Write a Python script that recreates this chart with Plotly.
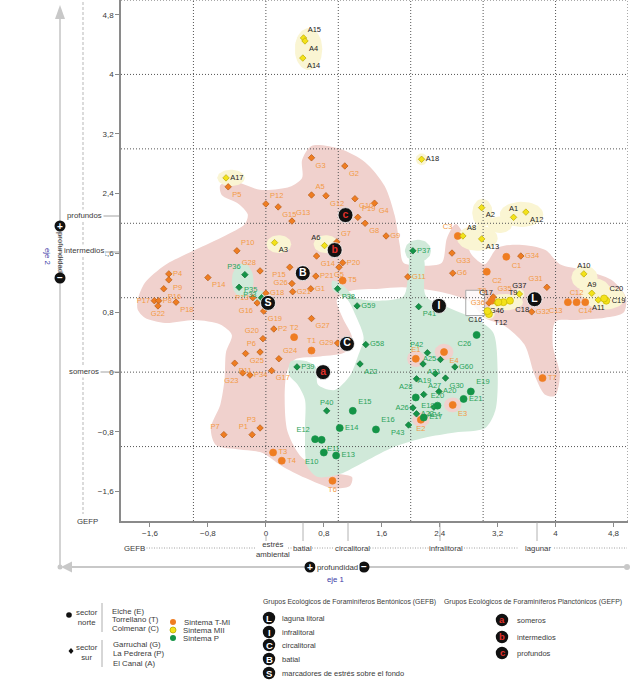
import numpy as np
import plotly.graph_objects as go

FONT = "Liberation Sans, Arial, Helvetica, sans-serif"

# ---------------- data ----------------
tick_vals = [-1.6, -0.8, 0, 0.8, 1.6, 2.4, 3.2, 4, 4.8]
tick_text = ["\u22121,6", "\u22120,8", "0", "0,8", "1,6", "2,4", "3,2", "4", "4,8"]
grid_vals = [-1, 0, 1, 2, 3, 4, 5]

# Sintema T-MI, sector sur (G, P, A)
tmi_sur_names = ["G3", "G2", "A5", "G12", "G10", "G4", "P19", "G8", "G9", "G7",
                 "P5", "P12", "G15", "G13", "P10", "G14", "P20", "G5", "G28", "P4",
                 "P9", "P14", "P15", "P21", "G26", "G21", "G1", "P16", "P17", "P8",
                 "G22", "P18", "G18", "P13", "G16", "G19", "G27", "P2", "G20", "G29",
                 "P6", "G25", "G24", "P11", "G23", "P34", "G17", "P7", "P1", "P3",
                 "G11", "G33", "G6", "G34", "G31", "G35", "G36", "G32"]
tmi_sur_x = [0.63, 1.09, 0.63, 0.83, 1.23, 1.50, 1.27, 1.37, 1.66, 0.98,
             -0.52, 0.00, 0.17, 0.36, -0.40, 0.70, 1.06, 1.01, -0.08, -1.34,
             -1.34, -0.80, 0.33, 0.69, 0.36, 0.37, 0.62, -1.41, -1.54, -1.48,
             -1.49, -1.24, 0.00, -0.18, -0.12, -0.03, 0.63, 0.11, -0.04, 0.99,
             -0.08, -0.28, 0.18, -0.43, -0.32, -0.22, 0.08, -0.58, -0.19, -0.08,
             1.96, 2.57, 2.58, 3.52, 3.88, 3.14, 3.08, 3.67]
tmi_sur_y = [2.88, 2.77, 2.38, 2.37, 2.33, 2.27, 2.08, 2.00, 1.83, 1.75,
             2.49, 2.26, 2.22, 2.03, 1.63, 1.56, 1.47, 1.41, 1.36, 1.32,
             1.24, 1.27, 1.41, 1.29, 1.19, 1.08, 1.12, 1.12, 0.96, 0.96,
             0.89, 0.94, 1.06, 1.00, 0.93, 0.82, 0.72, 0.58, 0.45, 0.39,
             0.27, 0.25, 0.18, 0.12, -0.01, -0.04, 0.02, -0.84, -0.84, -0.75,
             1.28, 1.60, 1.33, 1.56, 1.14, 1.01, 0.93, 0.81]

# Sintema T-MI, sector norte (E, T, C)
tmi_norte_names = ["C3", "C1", "C2", "T5", "T2", "T1", "T3", "T4", "T6", "T7",
                   "C12", "C13", "C14", "T8", "E1", "E4", "E3", "E2"]
tmi_norte_x = [2.65, 3.32, 3.05, 1.06, 0.39, 0.63, 0.10, 0.22, 0.92, 3.82,
               4.29, 4.17, 4.41, 3.12, 2.07, 2.46, 2.58, 2.14]
tmi_norte_y = [1.83, 1.55, 1.35, 1.23, 0.47, 0.29, -1.08, -1.19, -1.46, -0.08,
               0.94, 0.94, 0.94, 0.96, 0.18, 0.27, -0.44, -0.64]

# Sintema MII
mii_sur_names = ["A15", "A4", "A14", "A17", "A3", "A6", "A18", "A2", "A1", "A12",
                 "A8", "A13", "A10", "A9", "A11", "G37", "G46"]
mii_sur_x = [0.52, 0.54, 0.51, -0.55, 0.12, 0.81, 2.15, 2.98, 3.42, 3.59,
             2.72, 2.98, 4.39, 4.50, 4.59, 3.50, 3.19]
mii_sur_y = [4.49, 4.45, 4.22, 2.61, 1.74, 1.70, 2.86, 2.21, 2.08, 2.15,
             1.83, 1.79, 1.32, 1.06, 0.97, 1.05, 0.93]
mii_norte_names = ["C19", "C20", "T9", "C18", "C17", "T12", "C16"]
mii_norte_x = [4.70, 4.67, 3.28, 3.37, 3.21, 3.08, 3.06]
mii_norte_y = [0.96, 0.99, 0.94, 0.96, 0.94, 0.78, 0.82]

# Sintema P
p_sur_names = ["P37", "P36", "P33", "P35", "P38", "G59", "P41", "G58", "A22", "P42",
               "A25", "A21", "G60", "A19", "G30", "A28", "A27", "A20", "A24", "A26",
               "A23", "P40", "P43", "P39"]
p_sur_x = [2.03, -0.29, -0.37, -0.06, 0.99, 1.26, 2.11, 1.38, 1.30, 2.23,
           2.41, 2.17, 2.61, 2.34, 2.48, 2.08, 2.18, 2.39, 2.32, 2.03,
           2.08, 0.84, 1.97, 0.43]
p_sur_y = [1.63, 1.31, 1.14, 1.00, 1.12, 0.89, 0.88, 0.37, 0.11, 0.26,
           0.17, 0.11, 0.07, -0.02, -0.08, -0.09, -0.30, -0.26, -0.47, -0.48,
           -0.56, -0.52, -0.71, 0.07]
p_norte_names = ["C26", "E19", "E18", "E20", "E21", "E17", "E15", "E14", "E16",
                 "E12", "E11", "E10", "E13"]
p_norte_x = [2.91, 2.83, 2.07, 2.37, 2.73, 2.18, 1.20, 1.02, 1.52, 0.68, 0.77, 0.80, 0.97]
p_norte_y = [0.50, -0.26, -0.34, -0.45, -0.36, -0.61, -0.52, -0.75, -0.77, -0.90, -0.91, -1.08, -1.12]

# Group centroids
gefb_letters = ["L", "I", "C", "B", "S"]
gefb_x = [3.71, 2.39, 1.12, 0.51, 0.03]
gefb_y = [0.98, 0.89, 0.38, 1.33, 0.93]
gefp_letters = ["a", "b", "c"]
gefp_x = [0.79, 0.95, 1.10]
gefp_y = [0.00, 1.64, 2.11]

# Region outlines (data units)
pink_x = [-1.77, -1.67, -1.39, -0.98, -0.57, -0.29, -0.25, -0.39, -0.61, -0.63, -0.47, -0.08, 0.33, 0.50, 0.50,
          0.63, 1.02, 1.37, 1.64, 1.78, 1.85, 1.90, 2.19, 2.43, 2.50, 2.62, 2.73, 2.84, 3.02, 3.20, 3.50,
          3.86, 4.06, 4.40, 4.77, 4.97, 4.94, 4.68, 4.30, 4.00, 3.96, 4.06, 3.99, 3.85, 3.71, 3.57, 3.30,
          3.02, 2.81, 2.40, 1.89, 1.57, 1.16, 0.98, 1.06, 1.19, 1.10, 0.75, 0.40, 0.29, 0.26, 0.30, 0.50,
          0.88, 1.19, 1.16, 0.92, 0.54, 0.22, -0.06, -0.36, -0.69, -0.76, -0.63, -0.57, -0.55, -0.47,
          -0.63, -0.98, -1.39, -1.67, -1.77]
pink_y = [0.97, 1.20, 1.44, 1.64, 1.83, 1.99, 2.12, 2.27, 2.38, 2.51, 2.57, 2.45, 2.49, 2.61, 2.85,
          3.04, 3.00, 2.82, 2.50, 2.10, 1.70, 1.47, 1.43, 1.47, 1.80, 1.99, 1.86, 1.58, 1.45, 1.67, 1.71,
          1.64, 1.45, 1.37, 1.24, 1.01, 0.80, 0.73, 0.70, 0.68, 0.37, -0.04, -0.32, -0.30, -0.04, 0.37, 0.62,
          0.73, 0.95, 1.08, 1.14, 1.12, 1.09, 0.97, 0.73, 0.46, 0.27, 0.21, 0.17, 0.00, -0.37, -0.80, -1.15,
          -1.34, -1.41, -1.53, -1.56, -1.42, -1.26, -1.08, -1.04, -0.98, -0.75, -0.44, -0.10, 0.27, 0.50,
          0.64, 0.70, 0.66, 0.73, 0.84]
green_x = [0.92, 1.06, 1.24, 1.57, 1.90, 1.97, 2.00, 2.11, 2.19, 2.21, 2.54, 2.92, 3.14, 3.20, 3.17,
           3.03, 2.61, 2.19, 1.78, 1.37, 1.02, 0.72, 0.57, 0.54, 0.54, 0.44, 0.32, 0.34, 0.55, 0.69,
           0.72, 0.95, 1.16, 1.27, 1.35, 1.24, 1.13, 0.92]
green_y = [1.23, 1.17, 1.00, 0.96, 1.02, 1.37, 1.70, 1.75, 1.48, 1.02, 0.86, 0.70, 0.53, 0.03, -0.51,
           -0.75, -0.81, -0.88, -1.00, -1.20, -1.37, -1.41, -1.26, -0.78, -0.37, -0.17, -0.04, 0.14, 0.15, 0.07,
           -0.17, -0.24, -0.05, 0.21, 0.46, 0.76, 0.97, 1.11]

# small blobs: (cx, cy, rx, ry)
green_blobs = [(-0.32, 1.23, 0.15, 0.23), (-0.10, 1.02, 0.10, 0.08), (2.10, 1.63, 0.18, 0.15)]
yellow_blobs = [(0.59, 4.34, 0.19, 0.28), (-0.48, 2.61, 0.19, 0.11), (0.18, 1.72, 0.17, 0.12),
                (0.83, 1.72, 0.17, 0.12), (2.15, 2.86, 0.08, 0.08), (2.99, 2.14, 0.14, 0.19),
                (3.53, 2.12, 0.30, 0.17), (2.92, 1.80, 0.28, 0.17), (3.23, 1.98, 0.17, 0.11),
                (4.40, 1.27, 0.18, 0.16), (4.54, 1.10, 0.21, 0.16), (4.68, 1.00, 0.28, 0.16),
                (3.30, 0.94, 0.25, 0.11), (3.08, 0.79, 0.08, 0.08), (3.50, 1.05, 0.07, 0.07)]
pink_blobs = [(2.07, 0.18, 0.12, 0.11), (2.46, 0.27, 0.13, 0.11), (2.58, -0.44, 0.12, 0.10), (2.14, -0.64, 0.12, 0.10)]
label_box = (2.76, 3.02, 0.76, 1.10)

LABEL_POS = {
    "G3": "bottom right", "G2": "bottom right", "A5": "top right", "G12": "bottom right", "G10": "bottom right",
    "G4": "bottom right", "P19": "top right", "G8": "bottom right", "G9": "middle right", "G7": "top right",
    "P5": "bottom right", "P12": "top right", "G15": "bottom right", "G13": "top right", "P10": "top right",
    "G14": "bottom right", "P20": "middle right", "G5": "bottom center", "G28": "top left", "P4": "middle right",
    "P9": "bottom right", "P14": "bottom right", "P15": "bottom left", "P21": "middle right", "G26": "middle left",
    "G21": "middle right", "G1": "middle right", "P16": "bottom right", "P17": "middle left", "P8": "middle right",
    "G22": "bottom center", "P18": "bottom right", "G18": "middle right", "P13": "middle left", "G16": "bottom left",
    "G19": "bottom right", "G27": "bottom right", "P2": "middle right", "G20": "top left", "G29": "middle left",
    "P6": "top left", "G25": "bottom right", "G24": "top right", "P11": "bottom right", "G23": "bottom left",
    "P34": "middle right", "G17": "bottom right", "P7": "top left", "P1": "top left", "P3": "top left",
    "G11": "middle right", "G33": "bottom right", "G6": "middle right", "G34": "middle right", "G31": "top left",
    "G35": "top right", "G36": "middle left", "G32": "middle right",
    "C3": "top left", "C1": "bottom right", "C2": "bottom right", "T5": "middle right", "T2": "top center",
    "T1": "top center", "T3": "middle right", "T4": "middle right", "T6": "bottom center", "T7": "middle right",
    "C12": "top center", "C13": "bottom left", "C14": "bottom center", "T8": "top left", "E1": "top center",
    "E4": "bottom right", "E3": "bottom right", "E2": "bottom center",
    "A15": "top right", "A4": "bottom right", "A14": "bottom right", "A17": "middle right", "A3": "bottom right",
    "A6": "top left", "A18": "middle right", "A2": "bottom right", "A1": "top center", "A12": "bottom right",
    "A8": "top right", "A13": "bottom right", "A10": "top center", "A9": "top center", "A11": "bottom center",
    "G37": "top center", "G46": "bottom center",
    "C19": "middle right", "C20": "top right", "T9": "top right", "C18": "bottom right", "C17": "top left",
    "T12": "bottom right", "C16": "bottom left",
    "P37": "middle right", "P36": "top left", "P33": "bottom right", "P35": "top left", "P38": "bottom right",
    "G59": "middle right", "P41": "bottom right", "G58": "middle right", "A22": "bottom right", "P42": "top left",
    "A25": "middle left", "A21": "bottom right", "G60": "middle right", "A19": "bottom left", "G30": "bottom right",
    "A28": "bottom left", "A27": "top right", "A20": "middle right", "A24": "bottom center", "A26": "middle left",
    "A23": "middle right", "P40": "top center", "P43": "bottom left", "P39": "middle right",
    "C26": "bottom left", "E19": "top right", "E18": "bottom right", "E20": "top center", "E21": "middle right",
    "E17": "middle right", "E15": "top right", "E14": "middle right", "E16": "top right", "E12": "top left",
    "E11": "bottom right", "E10": "bottom left", "E13": "middle right",
}

# ---------------- styles ----------------
PINK = "#f0d1cd"
GREEN = "#d0e9d9"
YELLOW = "#faf5d3"
ORANGE = "#ef7d22"
ORANGE_T = "#f39a45"
YEL = "#f3e21a"
GRN = "#149447"
GRN_T = "#2aa35a"
GRID = "#555555"
AX = "#8a8a8a"
TXT = "#3a3a3a"

fig = go.Figure()


def ellipse(cx, cy, rx, ry, n=48):
    t = np.linspace(0, 2 * np.pi, n)
    return list(cx + rx * np.cos(t)), list(cy + ry * np.sin(t))


def add_region(xs, ys, color, spline=True):
    fig.add_trace(go.Scatter(
        x=list(xs) + [xs[0]], y=list(ys) + [ys[0]], mode="lines", fill="toself", fillcolor=color,
        line=dict(width=0, color=color, shape="spline" if spline else "linear", smoothing=0.8),
        hoverinfo="skip", showlegend=False))


add_region(pink_x, pink_y, PINK)
add_region(green_x, green_y, GREEN)
for b in green_blobs:
    ex, ey = ellipse(*b)
    add_region(ex, ey, GREEN, spline=False)
for b in yellow_blobs:
    ex, ey = ellipse(*b)
    add_region(ex, ey, YELLOW, spline=False)
for b in pink_blobs:
    ex, ey = ellipse(*b)
    add_region(ex, ey, PINK, spline=False)

bx0, bx1, by0, by1 = label_box
fig.add_trace(go.Scatter(x=[bx0, bx1, bx1, bx0, bx0], y=[by0, by0, by1, by1, by0], mode="lines",
                         fill="toself", fillcolor="rgba(255,255,255,0.85)",
                         line=dict(color="#a8a8a8", width=1), hoverinfo="skip", showlegend=False))

# dotted grid at integer values
gx, gy = [], []
for v in grid_vals:
    gx += [v, v, None]
    gy += [-2, 5, None]
    gx += [-2, 5, None]
    gy += [v, v, None]
fig.add_trace(go.Scatter(x=gx, y=gy, mode="lines", line=dict(color=GRID, width=1, dash="1px,2px"),
                         hoverinfo="skip", showlegend=False, cliponaxis=False))


def add_points(names, xs, ys, symbol, mcolor, mline, tcolor, size):
    fig.add_trace(go.Scatter(
        x=xs, y=ys, mode="markers+text", text=names,
        textposition=[LABEL_POS.get(n, "bottom right") for n in names],
        textfont=dict(family=FONT, size=7.5, color=tcolor),
        marker=dict(symbol=symbol, size=size, color=mcolor, line=dict(color=mline, width=0.7)),
        cliponaxis=False, hoverinfo="skip", showlegend=False))


add_points(tmi_sur_names, tmi_sur_x, tmi_sur_y, "diamond", ORANGE, "#b45a16", ORANGE_T, 5)
add_points(tmi_norte_names, tmi_norte_x, tmi_norte_y, "circle", ORANGE, ORANGE, ORANGE_T, 7)
add_points(p_sur_names, p_sur_x, p_sur_y, "diamond", GRN, "#0d6e34", GRN_T, 5)
add_points(p_norte_names, p_norte_x, p_norte_y, "circle", GRN, GRN, GRN_T, 7)
add_points(mii_sur_names, mii_sur_x, mii_sur_y, "diamond", YEL, "#b9a800", "#222222", 5)
add_points(mii_norte_names, mii_norte_x, mii_norte_y, "circle", YEL, "#c9b800", "#222222", 7)

fig.add_trace(go.Scatter(x=gefb_x, y=gefb_y, mode="markers+text", text=["<b>%s</b>" % s for s in gefb_letters],
                         textposition="middle center", textfont=dict(family=FONT, size=10.5, color="white"),
                         marker=dict(size=15, color="#111111", line=dict(color="white", width=0.8)),
                         hoverinfo="skip", showlegend=False))
fig.add_trace(go.Scatter(x=gefp_x, y=gefp_y, mode="markers+text", text=["<b>%s</b>" % s for s in gefp_letters],
                         textposition="middle center", textfont=dict(family=FONT, size=10.5, color="#e0302a"),
                         marker=dict(size=15, color="#111111", line=dict(color="white", width=0.8)),
                         hoverinfo="skip", showlegend=False))

# ---------------- outside decorations (pixel -> paper helpers) ----------------
W, H = 630, 681
ML, MR, MT, MB = 121, 2, 0, 160
PW, PH = W - ML - MR, H - MT - MB


def X(px):
    return (px - ML) / PW


def Y(py):
    return (MT + PH - py) / PH


shapes = []
ann = []


def line(x0, y0, x1, y1, color="#999", width=1, dash=None):
    d = dict(type="line", xref="paper", yref="paper", x0=X(x0), y0=Y(y0), x1=X(x1), y1=Y(y1),
             line=dict(color=color, width=width))
    if dash:
        d["line"]["dash"] = dash
    shapes.append(d)


def circ(px, py, r, color, lc=None):
    shapes.append(dict(type="circle", xref="paper", yref="paper", x0=X(px - r), x1=X(px + r),
                       y0=Y(py + r), y1=Y(py - r), fillcolor=color,
                       line=dict(width=0.8 if lc else 0, color=lc or color)))


def path(pts, color):
    s = "M " + " L ".join("%f,%f" % (X(a), Y(b)) for a, b in pts) + " Z"
    shapes.append(dict(type="path", xref="paper", yref="paper", path=s, fillcolor=color,
                       line=dict(width=0)))


def text(px, py, s, size=7.8, color=TXT, xanchor="center", angle=0, bg=None, bold=False):
    d = dict(x=X(px), y=Y(py), xref="paper", yref="paper", text=("<b>%s</b>" % s) if bold else s,
             showarrow=False, xanchor=xanchor, yanchor="middle", textangle=angle,
             font=dict(family=FONT, size=size, color=color))
    if bg:
        d["bgcolor"] = bg
        d["borderpad"] = 1
    ann.append(d)


# GEFP scale on the left
line(83, 2, 83, 514, "#c4c4c4", 1.2, "3px,2px")
line(100, 216, 121, 216, "#8c8c8c", 0.8)
line(104, 252, 121, 252, "#8c8c8c", 0.8)
line(98, 372, 121, 372, "#8c8c8c", 0.8)
text(84, 216, "profundos", bg="white")
text(84, 250, "intermedios", bg="white")
text(84, 371, "someros", bg="white")
text(87, 521, "GEFP", bg="white")

# vertical axis arrow (eje 2)
line(60, 567, 60, 16, "#c8c8c8", 1.6)
path([(55, 19), (60, 5), (65, 19)], "#c8c8c8")
circ(60, 226, 5.5, "#111")
circ(60, 278, 5.5, "#111")
text(60, 226.5, "+", size=10, color="white", bold=True)
text(60, 277.5, "\u2212", size=10, color="white", bold=True)
text(61, 252, "profundidad", size=7.8, angle=90)
text(48, 256, "eje 2", size=7.8, color="#3b3ba6", angle=90)

# horizontal arrow (eje 1)
line(64, 567, 627, 567, "#c8c8c8", 2)
path([(72, 561.5), (61, 567), (72, 572.5)], "#c8c8c8")
circ(60, 567, 2.5, "#c8c8c8")
circ(627, 567, 3, "#c8c8c8")
circ(310, 567, 5.5, "#111")
circ(364, 567, 5.5, "#111")
text(310, 567.5, "+", size=10, color="white", bold=True)
text(364, 566.5, "\u2212", size=10, color="white", bold=True)
text(337, 567, "profundidad", size=7.8, bg="white")
text(335, 579, "eje 1", size=7.8, color="#3b3ba6")

# GEFB row under the x axis
for sx in [303, 348, 440, 537]:
    line(sx, 522, sx, 541, "#a0a0a0", 0.8)
line(266, 535, 266, 541, "#a0a0a0", 0.8)
for a, b in [(144, 255), (288, 293), (312, 334), (370, 429), (464, 519), (554, 627)]:
    line(a, 548, b, 548, "#8c8c8c", 0.8, "1px,1.5px")
text(122, 548, "GEFB", xanchor="left")
text(273, 549, "estrés<br>ambiental")
text(302, 548, "batial")
text(352, 548, "circalitoral")
text(446, 548, "infralitoral")
text(538, 548, "lagunar")

# legend: sectors
circ(69, 615, 2.8, "#111")
text(87, 617, "sector<br>norte")
line(102, 603, 102, 632, "#9a9a9a", 0.8)
text(110, 611, "Elche (E)", xanchor="left")
text(110, 619.5, "Torrellano (T)", xanchor="left")
text(110, 628, "Colmenar (C)", xanchor="left")
path([(71, 648), (73.5, 651), (71, 654), (68.5, 651)], "#111")
text(87, 652, "sector<br>sur")
line(102, 640, 102, 667, "#9a9a9a", 0.8)
text(111, 644, "Garruchal (G)", xanchor="left")
text(111, 653, "La Pedrera (P)", xanchor="left")
text(111, 663, "El Canal (A)", xanchor="left")

# legend: sintemas
circ(173, 622, 3, ORANGE)
circ(173, 630, 3, YEL, "#b9a800")
circ(173, 638, 3, GRN)
text(182, 622, "Sintema T-MI", xanchor="left")
text(181, 630, "Sintema MII", xanchor="left")
text(181, 638, "Sintema P", xanchor="left")

# legend: GEFB groups
text(261, 602, "Grupos Ecológicos de Foraminíferos Bentónicos (GEFB)", size=6.9, xanchor="left")
for (lt, lab, py) in zip(gefb_letters,
                         ["laguna litoral", "infralitoral", "circalitoral", "batial",
                          "marcadores de estrés sobre el fondo"],
                         [618, 632, 645, 659, 673]):
    circ(269, py, 6.2, "#111")
    text(269, py + 0.5, lt, size=9.5, color="white", bold=True)
    text(280, py, lab, size=7.5, xanchor="left")

# legend: GEFP groups
text(442, 602, "Grupos Ecológicos de Foraminíferos Planctónicos (GEFP)", size=6.9, xanchor="left")
for (lt, lab, py) in zip(gefp_letters, ["someros", "intermedios", "profundos"], [620, 637, 653]):
    circ(502, py, 6.2, "#111")
    text(502, py - 0.5, lt, size=9.5, color="#e0302a", bold=True)
    text(515, py, lab, size=7.5, xanchor="left")

axis_common = dict(range=[-2, 5], tickvals=tick_vals, ticktext=tick_text, showgrid=False, zeroline=False,
                   showline=True, linecolor=AX, linewidth=1.5, ticks="outside", ticklen=4, tickcolor=AX,
                   tickfont=dict(family=FONT, size=8, color=TXT), fixedrange=True)

fig.update_layout(
    width=W, height=H, margin=dict(l=ML, r=MR, t=MT, b=MB),
    paper_bgcolor="white", plot_bgcolor="white", showlegend=False,
    xaxis=axis_common, yaxis=axis_common,
    shapes=shapes, annotations=ann,
)

fig.write_html("out.html", config={"displayModeBar": False},
               post_script="document.body.style.margin='0px';document.body.style.padding='0px';")
